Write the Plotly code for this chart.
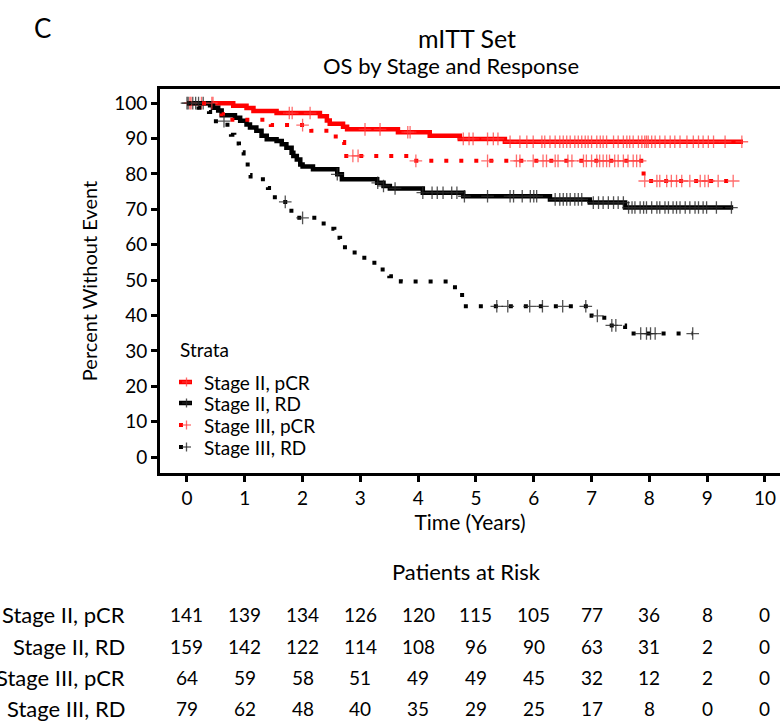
import plotly.graph_objects as go
import numpy as np

# Kaplan-Meier step curves (time in years, percent without event)
s2_pcr_time = [0, 0.8, 1.03, 1.15, 1.55, 2.3, 2.42, 2.47, 2.7, 2.77, 3.65, 4.2, 4.72, 5.5, 9.62]
s2_pcr_surv = [100, 99.3, 98.6, 97.8, 97.2, 96.3, 95.1, 94.2, 93.3, 92.6, 91.8, 90.8, 89.9, 89.1, 89.1]

s2_rd_time = [0, 0.4, 0.45, 0.54, 0.6, 0.83, 0.92, 1.03, 1.09, 1.2, 1.29, 1.38, 1.55, 1.64, 1.72,
              1.81, 1.84, 1.9, 1.96, 2.0, 2.18, 2.6, 2.68, 3.29, 3.4, 3.51, 4.08, 4.78, 6.28, 6.97,
              7.58, 9.45]
s2_rd_surv = [100, 99.4, 98.7, 97.9, 96.6, 95.9, 95.0, 94.0, 93.1, 92.2, 90.8, 89.8, 89.3, 88.4, 87.4,
              86.0, 85.1, 84.1, 82.7, 82.1, 81.3, 79.9, 78.5, 77.5, 76.6, 75.9, 74.7, 73.7, 72.8, 71.9,
              70.5, 70.5]

s3_pcr_time = [0, 0.6, 0.75, 1.45, 2.15, 2.5, 2.63, 2.72, 3.92, 7.86, 7.9, 9.45]
s3_pcr_surv = [100, 96.9, 95.3, 93.8, 92.2, 90.6, 89.0, 85.1, 83.7, 81.3, 78.0, 78.0]

s3_rd_time = [0, 0.2, 0.38, 0.5, 0.7, 0.76, 0.82, 0.9, 0.98, 1.05, 1.1, 1.4, 1.48, 1.6, 1.75, 1.85,
              2.3, 2.45, 2.55, 2.65, 2.8, 3.0, 3.18, 3.32, 3.5, 3.7, 4.55, 4.7, 4.76, 7.0, 7.22, 7.58,
              8.75]
s3_rd_surv = [100, 98.7, 97.5, 94.9, 92.4, 91.1, 88.6, 86.1, 83.5, 79.7, 78.5, 76.0, 73.4, 72.1, 69.6,
              67.6, 66.0, 64.5, 62.0, 59.3, 57.8, 56.3, 54.9, 53.0, 51.1, 49.6, 48.0, 46.4, 42.6, 39.9,
              37.2, 34.9, 34.9]

# Censoring times
s2_pcr_cens = [0.05, 0.25, 0.45, 1.77, 1.82, 2.13, 3.08, 3.34, 3.82, 3.86, 4.78, 4.88, 4.95, 5.2, 5.3,
               5.38, 5.59, 5.76, 5.88, 5.99, 6.14, 6.19, 6.28, 6.37, 6.45, 6.51, 6.57, 6.63, 6.71, 6.77,
               6.83, 6.89, 6.94, 7.0, 7.09, 7.15, 7.2, 7.26, 7.38, 7.46, 7.55, 7.61, 7.66, 7.72, 7.81,
               7.87, 7.92, 7.95, 7.98, 8.04, 8.1, 8.18, 8.27, 8.36, 8.44, 8.53, 8.65, 8.76, 8.85, 8.93,
               9.02, 9.11, 9.31, 9.6]
s2_rd_cens = [0.0, 0.1, 0.2, 0.28, 2.6, 3.3, 3.4, 3.6, 4.08, 4.24, 4.33, 4.43, 4.58, 4.67, 4.8, 5.2,
              5.59, 5.65, 5.8, 5.94, 6.0, 6.05, 6.37, 6.45, 6.51, 6.57, 6.63, 6.71, 6.77, 6.83, 7.03,
              7.12, 7.2, 7.29, 7.38, 7.46, 7.55, 7.64, 7.7, 7.75, 7.84, 7.9, 7.95, 8.04, 8.13, 8.18,
              8.27, 8.33, 8.41, 8.47, 8.53, 8.62, 8.7, 8.79, 8.85, 8.93, 8.99, 9.16, 9.42]
s3_pcr_cens = [0.07, 0.43, 2.0, 2.87, 2.96, 3.96, 5.2, 5.7, 5.76, 5.99, 6.16, 6.22, 6.37, 6.42, 6.59,
               6.66, 6.86, 6.91, 7.0, 7.09, 7.14, 7.2, 7.26, 7.31, 7.4, 7.46, 7.55, 7.63, 7.72, 7.78,
               7.84, 7.92, 8.13, 8.18, 8.3, 8.38, 8.47, 8.56, 8.7, 8.88, 8.96, 9.02, 9.19, 9.45]
s3_rd_cens = [0.02, 0.15, 0.64, 1.7, 2.0, 5.36, 5.55, 5.93, 6.15, 6.5, 6.9, 7.1, 7.35, 7.42, 7.85,
              7.95, 8.02, 8.1, 8.75]

strata = ["Stage II, pCR", "Stage II, RD", "Stage III, pCR", "Stage III, RD"]
at_risk_times = [0, 1, 2, 3, 4, 5, 6, 7, 8, 9, 10]
at_risk = [
    [141, 139, 134, 126, 120, 115, 105, 77, 36, 8, 0],
    [159, 142, 122, 114, 108, 96, 90, 63, 31, 2, 0],
    [64, 59, 58, 51, 49, 49, 45, 32, 12, 2, 0],
    [79, 62, 48, 40, 35, 29, 25, 17, 8, 0, 0],
]

FONT = "Lato"
W, H = 780, 724
ML, MR, MT, MB = 160, 0, 89, 251

curves = [
    (s2_pcr_time, s2_pcr_surv, s2_pcr_cens, "#ff0000", "solid", 4.5, "rgba(255,60,60,0.75)"),
    (s2_rd_time, s2_rd_surv, s2_rd_cens, "#000000", "solid", 4.5, "rgba(40,40,40,0.8)"),
    (s3_pcr_time, s3_pcr_surv, s3_pcr_cens, "#ff0000", "4px,11px", 4, "rgba(255,60,60,0.75)"),
    (s3_rd_time, s3_rd_surv, s3_rd_cens, "#000000", "4px,11px", 4, "rgba(40,40,40,0.8)"),
]


def step_value(times, surv, t):
    idx = np.searchsorted(np.asarray(times), t, side="right") - 1
    return surv[max(idx, 0)]


def paper_y(py):
    return (H - MB - py) / (H - MT - MB)


def paper_x(px):
    return (px - ML) / (W - ML - MR)


fig = go.Figure()
for (t, s, c, col, dash, lw, ccol), name in zip(curves, strata):
    fig.add_trace(go.Scatter(x=t, y=s, mode="lines", line=dict(color=col, width=lw, dash=dash, shape="hv"),
                             name=name, showlegend=False, hoverinfo="skip"))
    fig.add_trace(go.Scatter(x=c, y=[step_value(t, s, v) for v in c], mode="markers",
                             marker=dict(symbol="cross-thin", size=9, line=dict(color=ccol, width=1.3)),
                             showlegend=False, hoverinfo="skip"))

# Number-at-risk table
row_px = [614, 646, 677, 708]
annotations = []
for name, counts, py in zip(strata, at_risk, row_px):
    yp = paper_y(py)
    annotations.append(dict(text=name, xref="paper", yref="paper", x=paper_x(127), y=yp,
                            xanchor="right", yanchor="middle", showarrow=False,
                            font=dict(family=FONT, size=22, color="#000")))
    for tt, n in zip(at_risk_times, counts):
        annotations.append(dict(text=str(n), xref="x", yref="paper", x=tt, y=yp, xanchor="center",
                                yanchor="middle", showarrow=False,
                                font=dict(family=FONT, size=19, color="#000")))

annotations += [
    dict(text="Patients at Risk", xref="paper", yref="paper", x=0.495, y=paper_y(571), xanchor="center",
         yanchor="middle", showarrow=False, font=dict(family=FONT, size=22, color="#000")),
    dict(text="C", xref="paper", yref="paper", x=paper_x(32), y=paper_y(28), xanchor="left",
         yanchor="middle", showarrow=False, font=dict(family=FONT, size=26, color="#000")),
    dict(text="mITT Set", xref="paper", yref="paper", x=0.495, y=paper_y(38), xanchor="center",
         yanchor="middle", showarrow=False, font=dict(family=FONT, size=25, color="#000")),
    dict(text="OS by Stage and Response", xref="paper", yref="paper", x=0.47, y=paper_y(65),
         xanchor="center", yanchor="middle", showarrow=False, font=dict(family=FONT, size=22, color="#000")),
    dict(text="Strata", xref="paper", yref="paper", x=paper_x(178), y=paper_y(349), xanchor="left",
         yanchor="middle", showarrow=False, font=dict(family=FONT, size=19, color="#000")),
]

# Legend entries drawn as short line samples with censor crosses
shapes = []
leg_rows = [382, 403, 425, 447]
for (t, s, c, col, dash, lw, ccol), name, py in zip(curves, strata, leg_rows):
    yp = paper_y(py)
    if dash == "solid":
        shapes.append(dict(type="line", xref="paper", yref="paper", x0=paper_x(179), x1=paper_x(192),
                           y0=yp, y1=yp, line=dict(color=col, width=4.5)))
    else:
        shapes.append(dict(type="line", xref="paper", yref="paper", x0=paper_x(179), x1=paper_x(183),
                           y0=yp, y1=yp, line=dict(color=col, width=4)))
    shapes.append(dict(type="line", xref="paper", yref="paper", x0=paper_x(182), x1=paper_x(191),
                       y0=yp, y1=yp, line=dict(color=ccol, width=1.3)))
    shapes.append(dict(type="line", xref="paper", yref="paper", x0=paper_x(186.5), x1=paper_x(186.5),
                       y0=paper_y(py - 4.5), y1=paper_y(py + 4.5), line=dict(color=ccol, width=1.3)))
    annotations.append(dict(text=name, xref="paper", yref="paper", x=paper_x(202), y=yp, xanchor="left",
                            yanchor="middle", showarrow=False, font=dict(family=FONT, size=19, color="#000")))

fig.update_layout(
    width=W, height=H,
    margin=dict(l=ML, r=MR, t=MT, b=MB),
    paper_bgcolor="white", plot_bgcolor="white",
    font=dict(family=FONT, size=18, color="#000"),
    annotations=annotations, shapes=shapes,
    showlegend=False,
)
fig.update_xaxes(range=[-0.467, 10.26], tickvals=list(range(11)), ticks="outside", ticklen=6, tickwidth=2.5,
                 tickcolor="#000", showline=True, linecolor="#000", linewidth=3, mirror=True, showgrid=False,
                 zeroline=False, tickfont=dict(family=FONT, size=19),
                 title=dict(text="Time (Years)", font=dict(family=FONT, size=21), standoff=8))
fig.update_yaxes(range=[-4.5, 104.0], tickvals=list(range(0, 101, 10)), ticks="outside", ticklen=6,
                 tickwidth=2.5, tickcolor="#000", showline=True, linecolor="#000", linewidth=3,
                 showgrid=False, zeroline=False, tickfont=dict(family=FONT, size=19),
                 title=dict(text="Percent Without Event", font=dict(family=FONT, size=20), standoff=12))

fig.write_html("out.html")
